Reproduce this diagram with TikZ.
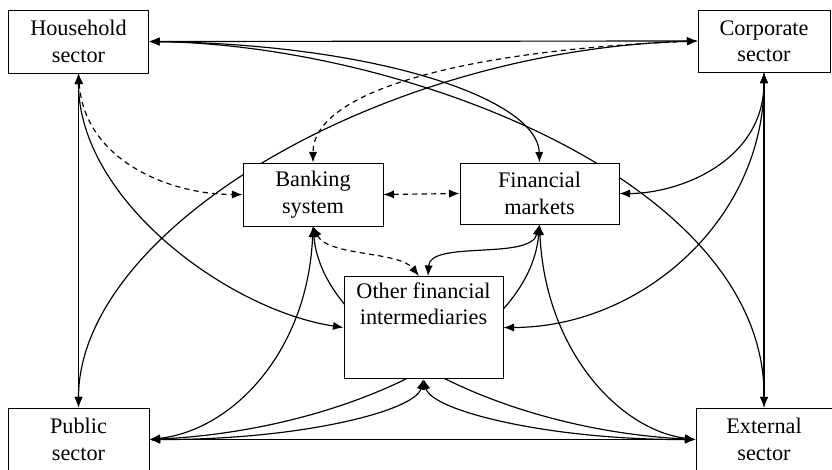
\documentclass[tikz,border=0pt]{standalone}
\usepackage{fontspec}
\setmainfont{Liberation Serif}
\usetikzlibrary{arrows.meta, backgrounds}

\begin{document}
\begin{tikzpicture}[
    x=0.03cm, y=-0.03cm,
    sector/.style={rectangle, draw=black, fill=white, line width=0.8pt, inner sep=2pt,
        minimum width=4.2cm, minimum height=1.89cm, align=center,
        font=\fontsize{19}{22.5}\selectfont},
    link/.style={{Latex[length=9pt,width=7pt]}-{Latex[length=9pt,width=7pt]}, line width=1pt},
    dashed_link/.style={link, dash pattern=on 4.5pt off 3.5pt}
]
\useasboundingbox (0,0) rectangle (832,469);

% sectors in the corners
\node (house) [sector] at (78.5,41.5) {Household\\sector};
\node (corp) [sector, minimum width=3.96cm, minimum height=1.86cm] at (764,41) {Corporate\\sector};
\node (pub) [sector, minimum width=4.23cm] at (78.5,439.5) {Public\\sector};
\node (ext) [sector, minimum width=4.08cm] at (764,439.5) {External\\sector};

% financial system in the middle
\node (bank) [sector] at (313,194.5) {Banking\\system};
\node (fin) [sector, minimum width=4.77cm, minimum height=1.83cm] at (539.5,193.5) {Financial\\markets};
\node (ofi) [sector, anchor=north, minimum width=4.77cm, minimum height=0pt,
    inner ysep=3pt, text height=15.8pt, text depth=65.3pt] at (423.5,276)
    {\begin{tabular}[t]{@{}c@{}}Other financial\\intermediaries\end{tabular}};

\begin{scope}[on background layer]
% household links
\draw [link] (house.east) -- (corp.west);
\draw [link] (house.east) .. controls +(231,3) and +(-1.5,-63) .. (fin.north);
\draw [link] (house.east) .. controls +(251.5,3.5) and +(2,-228) .. (ext.north);
\draw [link] (house.south) -- (pub.north);
\draw [link] (house.south) .. controls +(0,127) and +(-114,-17) .. (ofi.west);
\draw [dashed_link] (house.south) .. controls +(6,87) and +(-73,0) .. (bank.west);

% corporate links
\draw [dashed_link] (corp.west) .. controls +(-228,9) and +(0,-73) .. (bank.north);
\draw [link] (corp.west) .. controls +(-318,9) and +(0,-178) .. (pub.north);
\draw [link] (corp.south) .. controls +(0,88) and +(61,0) .. (fin.east);
\draw [link] (corp.south) .. controls +(0,148) and +(137,0) .. (ofi.east);
\draw [link] (corp.south) -- (ext.north);

% within the financial system
\draw [dashed_link] (bank.east) -- (fin.west);
\draw [dashed_link] (bank.south) .. controls +(15,30) and +(-20,-25) .. (ofi.95);
\draw [link] (fin.south) .. controls +(-9.5,36) and +(2,-36) .. (ofi.85);

% down to public and external sector
\draw [link] (bank.south) .. controls +(-5,124) and +(84,-9.5) .. (pub.east);
\draw [link] (bank.south) .. controls +(10,114) and +(-193,-9.5) .. (ext.west);
\draw [link] (fin.south) .. controls +(-9.5,116) and +(201,-9.5) .. (pub.east);
\draw [link] (fin.south) .. controls +(5.5,126) and +(-76,-9.5) .. (ext.west);
\draw [link] (ofi.south) .. controls +(-8.5,32) and +(151,0.5) .. (pub.east);
\draw [link] (ofi.south) .. controls +(8.5,32) and +(-146,0.5) .. (ext.west);
\draw [link] (pub.east) -- (ext.west);
\end{scope}

\end{tikzpicture}
\end{document}
